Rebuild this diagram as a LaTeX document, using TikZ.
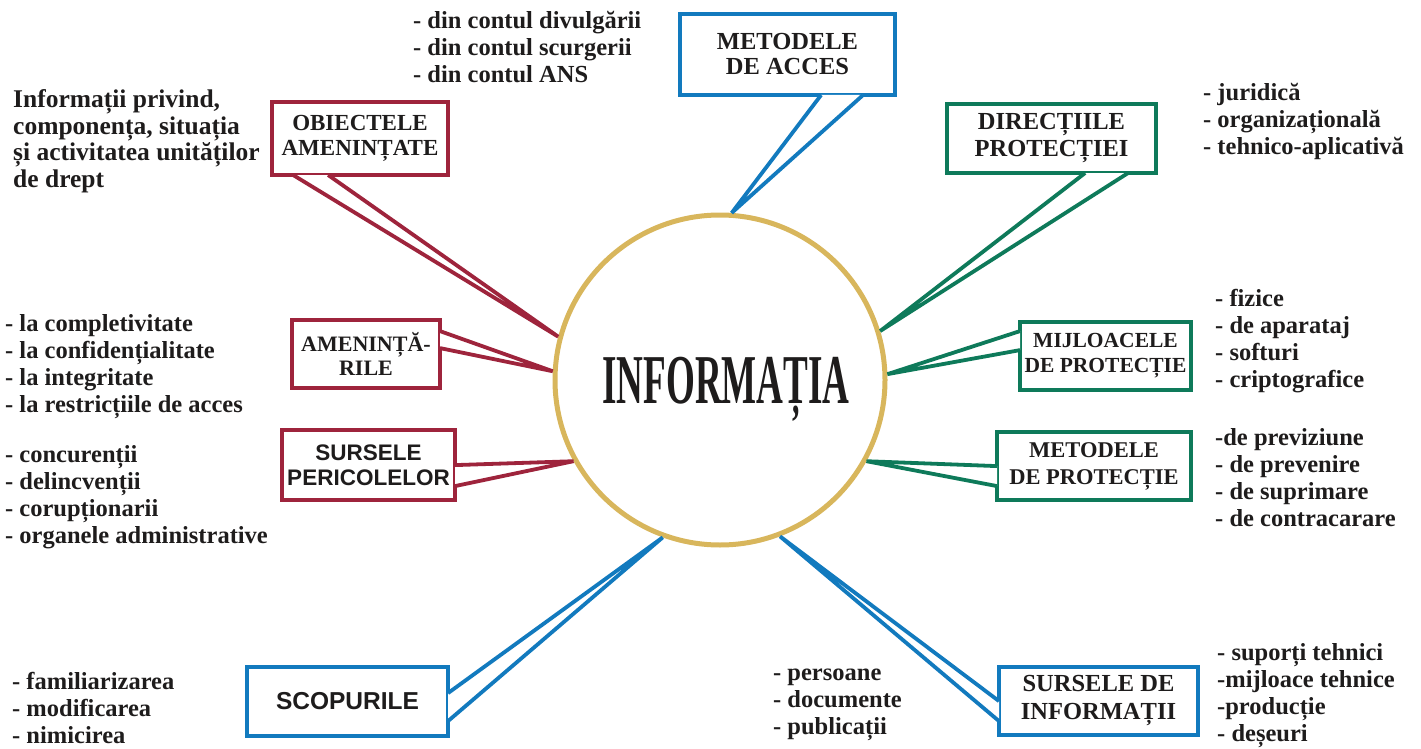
\documentclass[tikz,border=0pt]{standalone}
\usepackage{fontspec}
\setmainfont{Liberation Serif}
\setsansfont{Liberation Sans}
\definecolor{amenred}{RGB}{158,36,60}
\definecolor{accesblue}{RGB}{18,122,190}
\definecolor{protgreen}{RGB}{14,122,90}
\definecolor{infogold}{RGB}{216,182,92}
\definecolor{textblack}{RGB}{30,28,28}

\begin{document}
\begin{tikzpicture}[x=1pt,y=-1pt,
  box/.style={draw,line width=3.8pt,fill=white,inner sep=0pt,align=center,text=textblack,font=\fontsize{23}{25}\selectfont\bfseries},
  redbox/.style={box,draw=amenred},
  bluebox/.style={box,draw=accesblue},
  greenbox/.style={box,draw=protgreen},
  ptr/.style={line width=3.8pt,fill=white},
  list/.style={anchor=west,align=left,inner sep=0pt,text=textblack,font=\fontsize{24.5}{27}\selectfont\bfseries}]
\useasboundingbox (0,0) rectangle (1421,749);
\node[circle,draw=infogold,line width=5pt,minimum size=330,text depth=0pt,text=textblack,font=\fontsize{70}{70}\selectfont\bfseries] (info) at (720,380) {\hspace*{12pt}\scalebox{0.53}[1]{INFORMAȚIA}};
\node[redbox,minimum width=176,minimum height=73] (obj) at (360,138.5) {OBIECTELE\\AMENINȚATE};
\node[bluebox,minimum width=215,minimum height=81,font=\fontsize{24.5}{25}\selectfont\bfseries] (acces) at (787.5,54.5) {METODELE\\DE ACCES};
\node[greenbox,minimum width=209,minimum height=69,font=\fontsize{24.5}{27}\selectfont\bfseries] (dir) at (1051.5,138.5) {DIRECȚIILE\\PROTECȚIEI};
\node[greenbox,minimum width=171,minimum height=68,font=\fontsize{21.5}{25}\selectfont\bfseries] (mij) at (1105.5,356) {MIJLOACELE\\DE PROTECȚIE};
\node[greenbox,minimum width=194,minimum height=68,font=\fontsize{22.5}{27}\selectfont\bfseries] (metp) at (1094,466) {METODELE\\DE PROTECȚIE};
\node[bluebox,minimum width=199,minimum height=68,font=\fontsize{24.5}{28}\selectfont\bfseries] (surse) at (1098.5,701) {SURSELE DE\\INFORMAȚII};
\node[bluebox,minimum width=201,minimum height=69,font=\sffamily\fontsize{24.5}{26}\selectfont\bfseries] (scop) at (347.5,701.5) {SCOPURILE};
\node[redbox,minimum width=148,minimum height=68,font=\fontsize{22}{24}\selectfont\bfseries] (amen) at (366,354) {AMENINȚĂ-\\RILE};
\node[redbox,minimum width=173,minimum height=70,font=\sffamily\fontsize{22.5}{25}\selectfont\bfseries] (pers) at (368.5,465) {SURSELE\\PERICOLELOR};
\draw[ptr,draw=amenred] ([xshift=23pt,yshift=1.9pt]obj.south west) -- (info.165.5) -- ([xshift=58pt,yshift=1.9pt]obj.south west);
\draw[ptr,draw=accesblue] ([xshift=143pt,yshift=1.9pt]acces.south west) -- (info.86.6) -- ([xshift=185pt,yshift=1.9pt]acces.south west);
\draw[ptr,draw=protgreen] ([xshift=140pt,yshift=1.9pt]dir.south west) -- (info.17.2) -- ([xshift=183pt,yshift=1.9pt]dir.south west);
\draw[ptr,draw=protgreen] ([xshift=1.9pt,yshift=-11pt]mij.north west) -- (info.2.4) -- ([xshift=1.9pt,yshift=-30pt]mij.north west);
\draw[ptr,draw=protgreen] ([xshift=1.9pt,yshift=-36pt]metp.north west) -- (info.331.5) -- ([xshift=1.9pt,yshift=-56pt]metp.north west);
\draw[ptr,draw=accesblue] ([xshift=1.9pt,yshift=-36pt]surse.north west) -- (info.291) -- ([xshift=1.9pt,yshift=-56pt]surse.north west);
\draw[ptr,draw=accesblue] ([xshift=-1.9pt,yshift=-28pt]scop.north east) -- (info.250.7) -- ([xshift=-1.9pt,yshift=-56pt]scop.north east);
\draw[ptr,draw=amenred] ([xshift=-1.9pt,yshift=-13pt]amen.north east) -- (info.177.3) -- ([xshift=-1.9pt,yshift=-30pt]amen.north east);
\draw[ptr,draw=amenred] ([xshift=-1.9pt,yshift=-37pt]pers.north east) -- (info.209) -- ([xshift=-1.9pt,yshift=-58pt]pers.north east);
\node[list,font=\fontsize{25.5}{26.5}\selectfont\bfseries] (privind) at (13,141) {Informații privind,\\componența, situația\\și activitatea unităților\\de drept};
\node[list] (divulg) at (413,47) {- din contul divulgării\\- din contul scurgerii\\- din contul ANS};
\node[list] (juridic) at (1203,121.7) {- juridică\\- organizațională\\- tehnico-aplicativă};
\node[list] (fizice) at (1215,341) {- fizice\\- de aparataj\\- softuri\\- criptografice};
\node[list] (previz) at (1215,478) {-de previziune\\- de prevenire\\- de suprimare\\- de contracarare};
\node[list] (complet) at (5,367) {- la completivitate\\- la confidențialitate\\- la integritate\\- la restricțiile de acces};
\node[list] (concur) at (5,497.5) {- concurenții\\- delincvenții\\- corupționarii\\- organele administrative};
\node[list] (famil) at (12,708) {- familiarizarea\\- modificarea\\- nimicirea};
\node[list] (persoane) at (773,705) {- persoane\\- documente\\- publicații};
\node[list] (suport) at (1217,695.5) {- suporți tehnici\\-mijloace tehnice\\-producție\\- deșeuri};
\end{tikzpicture}
\end{document}
